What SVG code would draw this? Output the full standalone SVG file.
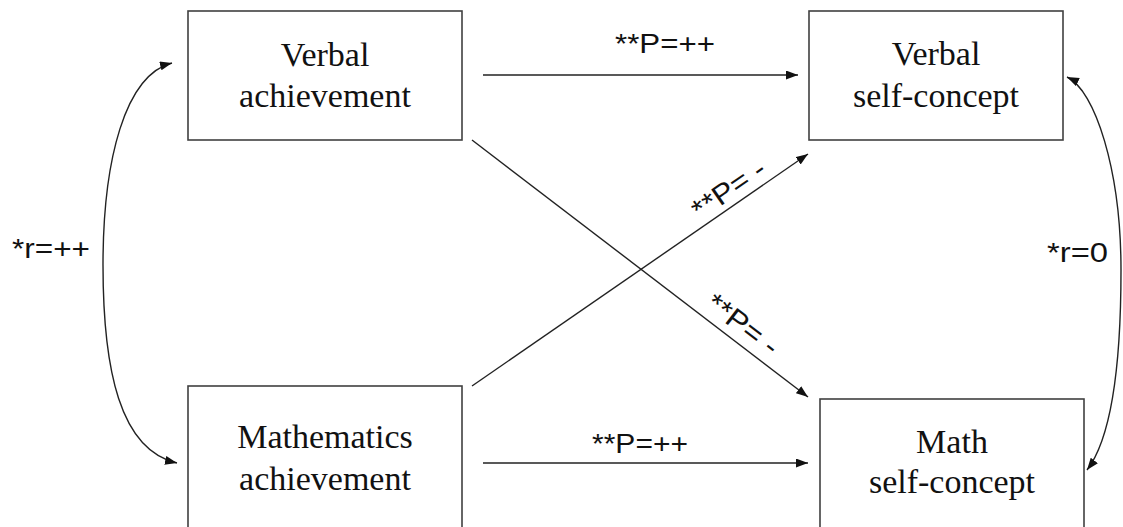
<svg xmlns="http://www.w3.org/2000/svg" width="1123" height="527" viewBox="0 0 1123 527">
<style>
.box{fill:#fff;stroke:#404040;stroke-width:1.6}
.nt{font-family:"Liberation Serif","Times New Roman",serif;font-size:34px;fill:#111;text-anchor:middle}
.lb{font-family:"Liberation Sans",Arial,sans-serif;font-size:28px;fill:#111}
.cn{fill:none;stroke:#222;stroke-width:1.4}
</style>
<defs>
<marker id="ah" markerUnits="userSpaceOnUse" markerWidth="14" markerHeight="10" refX="12" refY="4.5" orient="auto-start-reverse" viewBox="0 0 14 10">
<path d="M0,0 L12,4.5 L0,9 z" fill="#111"/>
</marker>
</defs>
<rect width="1123" height="527" fill="#fff"/>
<g id="verbal-achievement">
<rect class="box" x="188" y="11" width="274" height="129"/>
<text class="nt" x="325" y="66">Verbal</text>
<text class="nt" x="325" y="107">achievement</text>
</g>
<g id="verbal-self-concept">
<rect class="box" x="809" y="11" width="254" height="129"/>
<text class="nt" x="936" y="65">Verbal</text>
<text class="nt" x="936" y="107">self-concept</text>
</g>
<g id="math-achievement">
<rect class="box" x="188" y="386" width="274" height="160"/>
<text class="nt" x="325" y="448">Mathematics</text>
<text class="nt" x="325" y="490">achievement</text>
</g>
<g id="math-self-concept">
<rect class="box" x="820" y="399" width="264" height="150"/>
<text class="nt" x="952" y="453">Math</text>
<text class="nt" x="952" y="493">self-concept</text>
</g>
<g id="connectors">
<line class="cn" x1="483" y1="75" x2="798" y2="75" marker-end="url(#ah)"/>
<line class="cn" x1="483" y1="463" x2="808" y2="463" marker-end="url(#ah)"/>
<line class="cn" x1="472" y1="386" x2="808" y2="154" marker-end="url(#ah)"/>
<line class="cn" x1="472" y1="140" x2="808" y2="397" marker-end="url(#ah)"/>
<path class="cn" d="M172,63 C125,75 103,160 103,265 C103,370 120,450 177,463" marker-start="url(#ah)" marker-end="url(#ah)"/>
<path class="cn" d="M1067,77 C1095,90 1121,170 1121,270 C1121,370 1110,440 1087,470" marker-start="url(#ah)" marker-end="url(#ah)"/>
<text class="lb" x="615" y="53" textLength="100" lengthAdjust="spacingAndGlyphs">**P=++</text>
<text class="lb" x="592" y="453" textLength="96" lengthAdjust="spacingAndGlyphs">**P=++</text>
<text class="lb" x="12" y="258" textLength="78" lengthAdjust="spacingAndGlyphs">*r=++</text>
<text class="lb" x="1047" y="262" textLength="61" lengthAdjust="spacingAndGlyphs">*r=0</text>
<text class="lb" text-anchor="middle" transform="translate(734,197) rotate(-34.6)" textLength="83" lengthAdjust="spacingAndGlyphs">**P= -</text>
<text class="lb" text-anchor="middle" transform="translate(737,332) rotate(37.4)" textLength="83" lengthAdjust="spacingAndGlyphs">**P= -</text>
</g>
</svg>
